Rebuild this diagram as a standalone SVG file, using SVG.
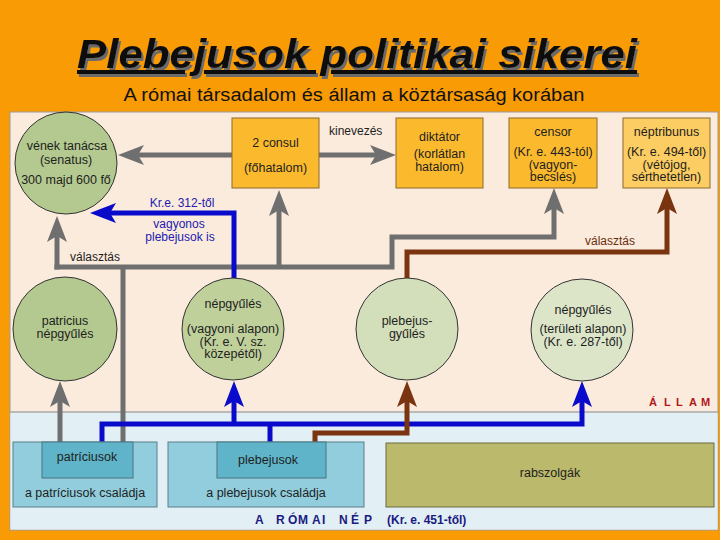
<svg xmlns="http://www.w3.org/2000/svg" width="720" height="540" viewBox="0 0 720 540">
<defs>
<style>
text{font-family:"Liberation Sans",Arial,sans-serif;fill:#1e1e1e;font-size:12.5px}
.c{text-anchor:middle}
.circ{stroke:#333;stroke-width:1}
.box{fill:#FBBA2E;stroke:#8C6A2A;stroke-width:1}
.g{fill:none;stroke:#6F6F6F;stroke-width:5}
.b{fill:none;stroke:#0A0ACB;stroke-width:5}
.r{fill:none;stroke:#7A3410;stroke-width:5}
.ga{marker-end:url(#ag)}
.ba{marker-end:url(#ab)}
.ra{marker-end:url(#ar)}
.fam{fill:#91CDDC;stroke:#5A7F8A;stroke-width:1}
.inner{fill:#5FB4C9;stroke:#4A7582;stroke-width:1}
.blue{fill:#2020B0}
</style>
<filter id="shadow" x="-5%" y="-20%" width="110%" height="150%">
<feOffset in="SourceAlpha" dx="2" dy="3" result="o"/>
<feFlood flood-color="#6a6a6a"/>
<feComposite in2="o" operator="in" result="s"/>
<feMerge><feMergeNode in="s"/><feMergeNode in="SourceGraphic"/></feMerge>
</filter>
<marker id="ag" markerUnits="userSpaceOnUse" markerWidth="26" markerHeight="22" viewBox="0 0 26 22" refX="6" refY="11" orient="auto"><path d="M0,1 L26,11 L0,21 L6,11 Z" fill="#6F6F6F"/></marker>
<marker id="ab" markerUnits="userSpaceOnUse" markerWidth="26" markerHeight="22" viewBox="0 0 26 22" refX="6" refY="11" orient="auto"><path d="M0,1 L26,11 L0,21 L6,11 Z" fill="#0A0ACB"/></marker>
<marker id="ar" markerUnits="userSpaceOnUse" markerWidth="26" markerHeight="22" viewBox="0 0 26 22" refX="6" refY="11" orient="auto"><path d="M0,1 L26,11 L0,21 L6,11 Z" fill="#7A3410"/></marker>
</defs>

<rect width="720" height="540" fill="#F99B05"/>
<g id="title">
<text x="357" y="68" class="c" filter="url(#shadow)" style="font-size:40px;font-weight:bold;font-style:italic;fill:#111;text-decoration:underline" textLength="560" lengthAdjust="spacingAndGlyphs">Plebejusok politikai sikerei</text>
<text x="354" y="101" class="c" style="font-size:18px;fill:#111" textLength="461" lengthAdjust="spacingAndGlyphs">A római társadalom és állam a köztársaság korában</text>
</g>

<g id="panel">
<rect x="10" y="112" width="708" height="418" fill="#FBEBDD" stroke="#9A9A9A" stroke-width="1"/>
<rect x="10.5" y="412" width="707" height="117.5" fill="#E2EFF4"/>
<line x1="10" y1="412" x2="718" y2="412" stroke="#A8A8A8" stroke-width="1.5"/>
<text x="649" y="406" style="font-size:11px;font-weight:bold;fill:#B01818"><tspan x="649 664 676 689 701">ÁLLAM</tspan></text>
<text y="524" style="font-size:12px;font-weight:bold;fill:#1A1A80"><tspan x="255">A</tspan><tspan x="276 288 298 312 322">RÓMAI</tspan><tspan x="339 351 364">NÉP</tspan><tspan x="387">(Kr. e. 451-től)</tspan></text>
</g>

<g id="connectors">
<path class="g ga" d="M232,155 H138"/>
<path class="g ga" d="M319,155 H376"/>
<path class="g ga" d="M54.5,267 H392 V237 H554 V208"/>
<path class="g ga" d="M57,269.5 V236"/>
<path class="g ga" d="M279,267 V210"/>
<path class="g" d="M123,442 V267"/>
<path class="g ga" d="M60,442 V401"/>
<path class="b ba" d="M234,278 V213 H110"/>
<path class="b ba" d="M102,442 V424 H582 V401"/>
<path class="b ba" d="M234,424 V401"/>
<path class="b" d="M270,442 V424"/>
<path class="r ra" d="M407,278 V252 H667 V208"/>
<path class="r ra" d="M315,442 V433 H407 V401"/>
<text x="329" y="135" style="font-size:12px">kinevezés</text>
<text x="95" y="261" class="c" style="font-size:12px">választás</text>
<text x="610" y="245" class="c" style="font-size:12px;fill:#6A2E10">választás</text>
<text x="182" y="207" class="c blue" style="font-size:12px">Kr.e. 312-től</text>
<text x="179" y="228" class="c blue" style="font-size:12px">vagyonos</text>
<text x="180" y="241" class="c blue" style="font-size:12px">plebejusok is</text>
</g>

<g id="senatus">
<circle cx="66" cy="163" r="51" class="circ" fill="#B3C98F"/>
<text x="67" y="150" class="c">vének tanácsa</text>
<text x="66" y="164" class="c">(senatus)</text>
<text x="66" y="184" class="c">300 majd 600 fő</text>
</g>

<g id="consul">
<rect x="232" y="118" width="87" height="70" class="box"/>
<text x="275.5" y="147" class="c">2 consul</text>
<text x="275.5" y="172" class="c">(főhatalom)</text>
</g>

<g id="diktator">
<rect x="396" y="118" width="87" height="70" class="box"/>
<text x="439.5" y="141" class="c">diktátor</text>
<text x="439.5" y="158" class="c">(korlátlan</text>
<text x="439.5" y="171" class="c">hatalom)</text>
</g>

<g id="censor">
<rect x="509" y="118" width="88" height="70" class="box"/>
<text x="553" y="136" class="c">censor</text>
<text x="553" y="156" class="c">(Kr. e. 443-tól)</text>
<text x="553" y="168.5" class="c">(vagyon-</text>
<text x="553" y="181" class="c">becslés)</text>
</g>

<g id="neptribunus">
<rect x="623" y="118" width="87" height="70" class="box" style="fill:#FCCD62"/>
<text x="666.5" y="136" class="c">néptribunus</text>
<text x="666.5" y="156" class="c">(Kr. e. 494-től)</text>
<text x="666.5" y="168.5" class="c">(vétójog,</text>
<text x="666.5" y="181" class="c">sérthetetlen)</text>
</g>

<g id="patricius-nepgyules">
<circle cx="65" cy="329" r="52" class="circ" fill="#B3C98F"/>
<text x="65" y="325" class="c">patricius</text>
<text x="65" y="338" class="c">népgyűlés</text>
</g>

<g id="nepgyules-vagyoni">
<circle cx="233" cy="329" r="51" class="circ" fill="#BFD09B"/>
<text x="233" y="308" class="c">népgyűlés</text>
<text x="233" y="333" class="c">(vagyoni alapon)</text>
<text x="233" y="345.5" class="c">(Kr. e. V. sz.</text>
<text x="233" y="358" class="c">közepétől)</text>
</g>

<g id="plebejusgyules">
<circle cx="407" cy="329" r="51" class="circ" fill="#D3DFBA"/>
<text x="407" y="325" class="c">plebejus-</text>
<text x="407" y="338" class="c">gyűlés</text>
</g>

<g id="nepgyules-teruleti">
<circle cx="582" cy="330" r="51" class="circ" fill="#DDE5C9"/>
<text x="583" y="314" class="c">népgyűlés</text>
<text x="583" y="333" class="c">(területi alapon)</text>
<text x="583" y="346" class="c">(Kr. e. 287-től)</text>
</g>

<g id="patriciusok">
<rect x="13" y="442" width="144" height="65" class="fam"/>
<rect x="42" y="442" width="91" height="36" class="inner"/>
<text x="87" y="461" class="c">patríciusok</text>
<text x="85" y="497" class="c">a patríciusok családja</text>
</g>

<g id="plebejusok">
<rect x="168" y="442" width="196" height="65" class="fam"/>
<rect x="217" y="442" width="109" height="36" class="inner"/>
<text x="268" y="464" class="c">plebejusok</text>
<text x="266" y="497" class="c">a plebejusok családja</text>
</g>

<g id="rabszolgak">
<rect x="386" y="443" width="328" height="64" fill="#BBB96B" stroke="#6C6C40" stroke-width="1"/>
<text x="550" y="477" class="c">rabszolgák</text>
</g>
</svg>
